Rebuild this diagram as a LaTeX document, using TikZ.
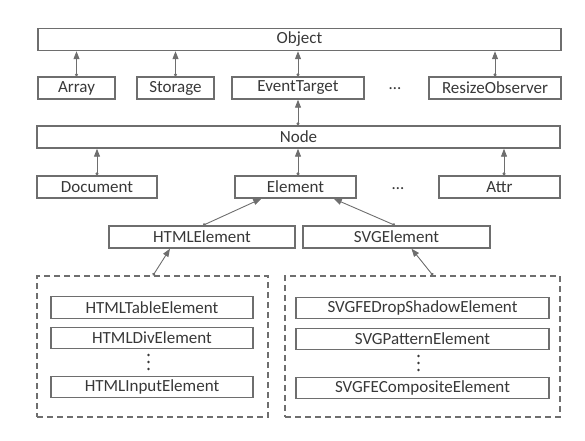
\documentclass[tikz,border=0pt]{standalone}
\usepackage{fontspec}
\setmainfont{Carlito}
\usetikzlibrary{arrows.meta}
\definecolor{ln}{HTML}{6E6E6E}
\definecolor{tx}{HTML}{383838}
\begin{document}
\begin{tikzpicture}[x=1pt,y=-1pt,
  box/.style={draw=ln,line width=1.4pt,minimum height=22pt,inner sep=0pt,text=tx,font=\fontsize{17}{18}\selectfont,anchor=center},
  grp/.style={draw=ln,line width=1.1pt,dash pattern=on 6pt off 4pt,inner sep=0pt},
  dt/.style={text=tx,font=\fontsize{17}{18}\selectfont,inner sep=0pt},
  vd/.style={fill=tx,draw=none},
  arr/.style={draw=ln,line width=0.9pt,{Circle[length=3pt]}-{Triangle[length=8pt,width=6pt]}}]
\useasboundingbox (0,0) rectangle (585,440);
\node[box,minimum width=523pt] (obj) at (299.5,39.5) {Object};
\node[box,minimum width=77pt] (arr) at (76.5,88) {Array};
\node[box,minimum width=77pt] (sto) at (175.5,88) {Storage};
\node[box,minimum width=132pt] (et) at (298,88) {EventTarget};
\node[box,minimum width=132pt] (ro) at (495,88) {ResizeObserver};
\node[dt] (d1) at (395,89) {\ldots};
\node[box,minimum width=523pt] (nd) at (298.5,137) {Node};
\node[box,minimum width=120pt] (doc) at (97,187) {Document};
\node[box,minimum width=121pt] (el) at (295.5,187) {Element};
\node[box,minimum width=121pt] (at) at (499.5,187) {Attr};
\node[dt] (d2) at (398,189) {\ldots};
\node[box,minimum width=186pt] (he) at (202,237) {HTMLElement};
\node[box,minimum width=187pt] (se) at (396.5,237) {SVGElement};
\node[grp,minimum width=231pt,minimum height=141pt] (lg) at (152.5,346.5) {};
\node[grp,minimum width=275pt,minimum height=141pt] (rg) at (422.5,346.5) {};
\node[box,minimum width=202pt,minimum height=21.5pt] (h1) at (152,307.5) {HTMLTableElement};
\node[box,minimum width=202pt,minimum height=21.5pt] (h2) at (152,338) {HTMLDivElement};
\node[box,minimum width=202pt,minimum height=21.5pt] (h3) at (152,387) {HTMLInputElement};
\node[box,minimum width=253pt,minimum height=21.5pt] (s1) at (422.5,308) {SVGFEDropShadowElement};
\node[box,minimum width=253pt,minimum height=21.5pt] (s2) at (422.5,339) {SVGPatternElement};
\node[box,minimum width=253pt,minimum height=21.5pt] (s3) at (422.5,388) {SVGFECompositeElement};
% vertical dots
\foreach \yy in {355,362,369} {
  \fill[vd] (148.5,\yy) circle (1.4pt);
  \fill[vd] (418.5,\yy+1) circle (1.4pt);
}
% arrows
\draw[arr] (arr.north) -- (arr.north |- obj.south);
\draw[arr] (sto.north) -- (sto.north |- obj.south);
\draw[arr] (et.north) -- (et.north |- obj.south);
\draw[arr] (ro.north) -- (ro.north |- obj.south);
\draw[arr] (et.south |- nd.north) -- (et.south);
\draw[arr] (doc.north) -- (doc.north |- nd.south);
\draw[arr] (et.south |- el.north) -- (et.south |- nd.south);
\draw[arr] ([xshift=4.5pt]at.north) -- ([xshift=4.5pt]at.north |- nd.south);
\draw[arr] ([xshift=1pt]he.north) -- ([xshift=27pt]el.south west);
\draw[arr] ([xshift=-1.5pt]se.north) -- ([xshift=-23pt]el.south east);
\draw[arr] ([xshift=0.5pt]lg.north) -- ([xshift=-32pt]he.south);
\draw[arr] ([xshift=10.5pt]rg.north) -- ([xshift=15pt]se.south);
\end{tikzpicture}
\end{document}
